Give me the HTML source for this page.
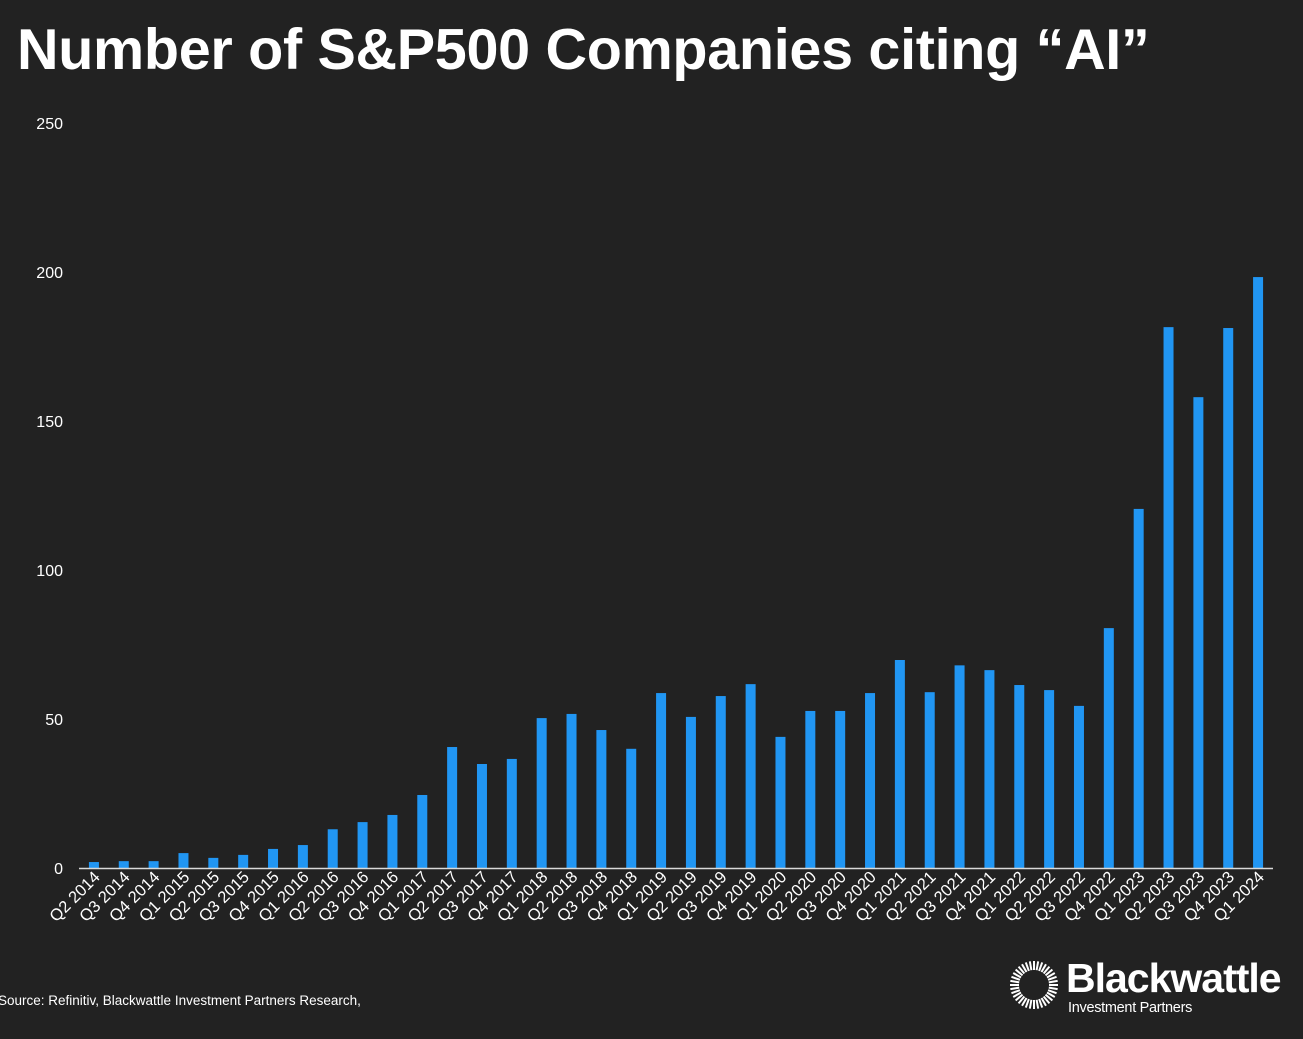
<!DOCTYPE html>
<html><head><meta charset="utf-8"><style>
html,body{margin:0;padding:0;background:#222222;width:1303px;height:1039px;overflow:hidden;font-family:"Liberation Sans",Arial,sans-serif;color:#fff}
h1{position:absolute;left:17px;top:17px;margin:0;font-size:57.5px;font-weight:bold;letter-spacing:-0.3px;line-height:66px;white-space:nowrap}
.src{position:absolute;left:-2px;top:993px;font-size:13.5px}
</style></head><body>
<h1>Number of S&amp;P500 Companies citing “AI”</h1>
<svg id="chart" width="1303" height="1039" style="position:absolute;left:0;top:0"></svg>
<div class="src">Source: Refinitiv, Blackwattle Investment Partners Research,</div>
<svg width="290" height="60" style="position:absolute;left:1005px;top:955px">
  <g id="sun"></g>
  <text x="61" y="37" font-size="41" font-weight="bold" fill="#fff" font-family="Liberation Sans, sans-serif" letter-spacing="-1">Blackwattle</text>
  <text x="63" y="57" font-size="14.5" fill="#fff" font-family="Liberation Sans, sans-serif" letter-spacing="-0.3">Investment Partners</text>
</svg>
<script>
const categories=["Q2 2014","Q3 2014","Q4 2014","Q1 2015","Q2 2015","Q3 2015","Q4 2015","Q1 2016","Q2 2016","Q3 2016","Q4 2016","Q1 2017","Q2 2017","Q3 2017","Q4 2017","Q1 2018","Q2 2018","Q3 2018","Q4 2018","Q1 2019","Q2 2019","Q3 2019","Q4 2019","Q1 2020","Q2 2020","Q3 2020","Q4 2020","Q1 2021","Q2 2021","Q3 2021","Q4 2021","Q1 2022","Q2 2022","Q3 2022","Q4 2022","Q1 2023","Q2 2023","Q3 2023","Q4 2023","Q1 2024"];
const values=[2,2.3,2.3,5,3.4,4.4,6.4,7.7,13,15.4,17.8,24.5,40.6,34.9,36.6,50.3,51.7,46.3,40,58.7,50.7,57.7,61.7,44,52.7,52.7,58.7,69.8,59,68,66.4,61.4,59.7,54.4,80.5,120.5,181.5,158,181.2,198.3];
const yTicks=[0,50,100,150,200,250];
const NS="http://www.w3.org/2000/svg";
const svg=document.getElementById('chart');
const y0=868,yTop=123,yMax=250,x0=79,x1=1273;
const yScale=v=>y0-(v/yMax)*(y0-yTop);
const step=(x1-x0)/categories.length;
const xScale=i=>x0+step*(i+0.5);
function mk(t,a){const e=document.createElementNS(NS,t);for(const k in a)e.setAttribute(k,a[k]);svg.appendChild(e);return e;}
yTicks.forEach(t=>{
  const e=mk('text',{x:63,y:yScale(t)+6,'text-anchor':'end','font-size':16,fill:'#fff'});
  
  
  e.textContent=t;
});
values.forEach((v,i)=>{
  const r=mk('rect',{x:xScale(i)-5,y:yScale(v),width:10,height:y0-yScale(v),fill:'#2196f3'});
  
  
});
const ax=mk('line',{x1:x0,x2:x1,y1:y0+0.5,y2:y0+0.5,stroke:'#d9d9d9','stroke-width':1.5});


categories.forEach((c,i)=>{
  const x=xScale(i)+7,y=y0+10;
  const t=mk('text',{x:x,y:y,'text-anchor':'end','font-size':16.5,fill:'#fff',transform:`rotate(-45 ${x} ${y})`});
  
  
  t.textContent=c;
});
const sun=document.getElementById('sun');
for(let k=0;k<36;k++){
  const a=k*Math.PI*2/36,cx=29,cy=30;
  const l=document.createElementNS(NS,'line');
  l.setAttribute('x1',cx+Math.cos(a)*15);l.setAttribute('y1',cy+Math.sin(a)*15);
  l.setAttribute('x2',cx+Math.cos(a)*24);l.setAttribute('y2',cy+Math.sin(a)*24);
  l.setAttribute('stroke','#fff');l.setAttribute('stroke-width','2');
  sun.appendChild(l);
}
</script>
</body></html>
